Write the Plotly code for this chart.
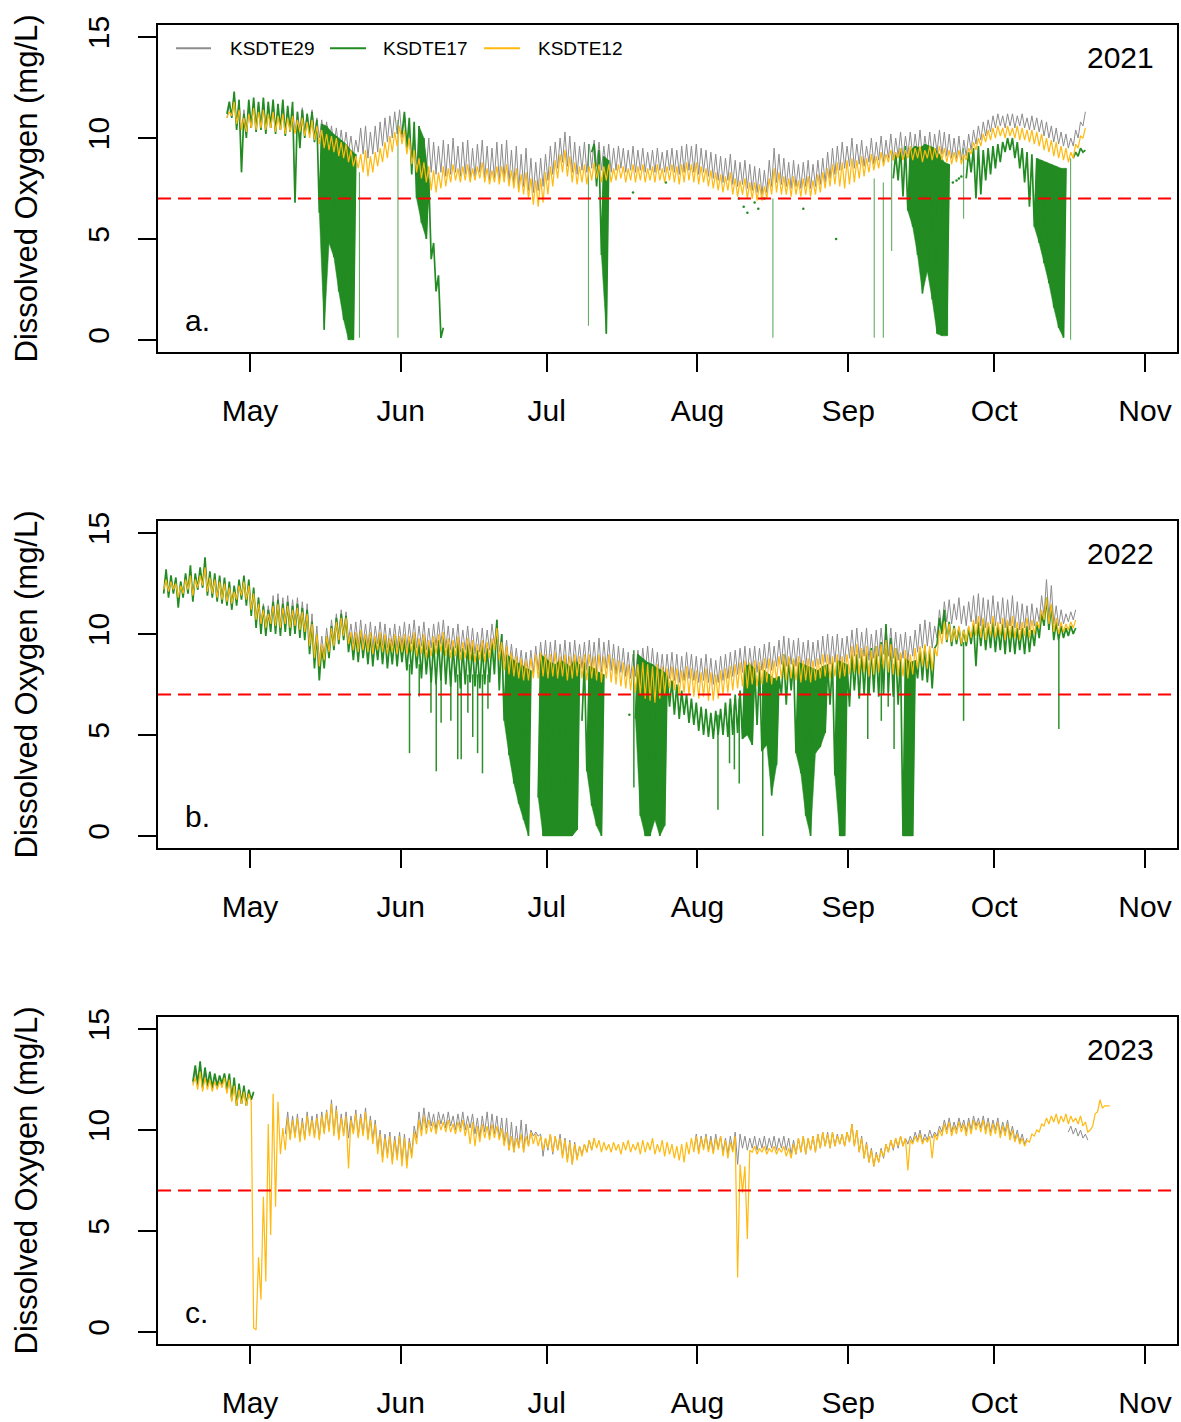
import pandas as pd
import plotly.graph_objects as go
from plotly.subplots import make_subplots

# ---------------- DATA (daily morning-low / afternoon-high pairs, 12 h apart, from 06:00 of start day) ----
months = ["May", "Jun", "Jul", "Aug", "Sep", "Oct", "Nov"]
month_nums = [5, 6, 7, 8, 9, 10, 11]
years = [2021, 2022, 2023]
panel_letters = ["a.", "b.", "c."]
series_names = ["KSDTE29", "KSDTE17", "KSDTE12"]
series_colors = ["#8c8c8c", "#228B22", "#FFB90F"]
threshold = 7

# ---- 2021 ----
k29_2021_starts = ["2021-04-26"]
k29_2021 = [[
    11.0,11.6, 11.2,12.2, 10.8,11.8, 10.4,11.4, 10.3,11.6, 10.6,11.8, 10.5,11.7,
    10.6,11.8, 10.5,11.6, 10.6,11.7, 10.4,11.5, 10.5,11.6, 10.3,11.4, 10.4,11.5,
    10.3,11.3, 10.4,11.5, 10.2,11.2, 10.2,11.4, 10.1,11.0, 10.0,10.9, 9.8,10.8,
    9.7,10.6, 9.6,10.5, 9.5,10.4, 9.4,10.3, 9.3,10.1, 9.1,9.9, 9.3,10.5,
    9.2,10.6, 9.0,10.3, 9.2,10.6, 9.3,10.8, 9.6,11.0, 9.8,11.1, 10.0,11.3,
    10.2,11.4, 10.0,11.2, 9.5,10.6, 9.0,10.2, 8.7,9.8, 8.5,9.9, 8.4,10.0,
    8.3,9.8, 8.2,9.6, 8.3,9.9, 8.1,9.7, 8.2,10.0, 8.3,9.6, 8.1,9.8,
    8.2,9.9, 8.0,9.5, 8.1,9.7, 8.3,9.9, 8.0,9.6, 7.9,9.5, 8.0,9.8,
    7.9,9.7, 8.0,9.9, 7.8,9.4, 7.7,9.6, 7.5,9.2, 7.6,9.5, 7.4,9.0,
    7.3,8.8, 7.4,9.0, 7.6,9.2, 7.9,9.6, 8.2,9.8, 8.5,10.0, 8.8,10.3,
    8.6,10.1, 8.3,9.8, 8.2,9.6, 8.4,9.8, 8.3,9.7, 8.5,9.9, 8.6,9.8,
    8.4,9.6, 8.5,9.7, 8.3,9.5, 8.4,9.6, 8.5,9.5, 8.3,9.4, 8.4,9.6,
    8.3,9.4, 8.4,9.5, 8.3,9.3, 8.4,9.4, 8.3,9.5, 8.4,9.3, 8.3,9.4,
    8.4,9.5, 8.3,9.4, 8.2,9.6, 8.3,9.7, 8.4,9.6, 8.3,9.7, 8.2,9.5,
    8.3,9.4, 8.1,9.3, 8.0,9.2, 7.9,9.1, 7.8,9.0, 7.9,9.2, 7.7,8.9,
    7.6,8.8, 7.7,8.9, 7.5,8.7, 7.4,8.6, 7.3,8.5, 7.2,8.4, 7.3,8.9,
    7.6,9.5, 7.8,9.2, 7.7,9.0, 7.6,8.8, 7.5,8.9, 7.6,8.7, 7.5,8.8,
    7.6,8.9, 7.5,8.7, 7.6,8.9, 7.7,9.0, 7.8,9.3, 8.0,9.5, 8.2,9.6,
    8.4,9.8, 8.5,9.6, 8.6,10.0, 8.5,9.7, 8.7,9.9, 8.6,9.6, 8.8,10.0,
    8.7,9.8, 8.9,10.1, 8.8,9.9, 9.0,10.2, 8.9,10.0, 9.1,10.3, 9.0,10.1,
    9.2,10.3, 9.1,10.2, 9.2,10.4, 9.0,10.1, 9.2,10.3, 9.1,10.2, 9.3,10.4,
    9.2,10.3, 9.1,10.2, 9.0,10.0, 9.0,10.1, 8.9,9.9, 9.1,10.2, 9.4,10.4,
    9.7,10.6, 9.9,10.8, 10.1,10.9, 10.3,11.1, 10.5,11.2, 10.6,11.1, 10.5,11.2,
    10.6,11.2, 10.5,11.1, 10.6,11.2, 10.5,11.0, 10.4,11.1, 10.4,11.0, 10.3,10.9,
    10.1,10.8, 10.0,10.6, 9.8,10.5, 9.7,10.3, 9.6,10.2, 9.5,10.0, 9.6,10.4,
    10.0,10.8, 10.6,11.3]]

k12_2021_starts = ["2021-04-26"]
k12_2021 = [[
    11.0,11.3, 11.1,11.8, 10.7,11.4, 10.4,11.0, 10.3,11.2, 10.5,11.5, 10.4,11.3,
    10.5,11.4, 10.4,11.2, 10.5,11.3, 10.3,11.1, 10.4,11.2, 10.2,11.0, 10.3,11.1,
    10.2,10.9, 10.3,11.0, 10.1,10.8, 10.0,10.9, 9.9,10.6, 9.7,10.4, 9.5,10.2,
    9.4,10.1, 9.3,10.0, 9.1,9.8, 9.0,9.7, 8.8,9.4, 8.6,9.1, 8.5,9.2,
    8.3,9.4, 8.1,9.1, 8.3,9.3, 8.6,9.5, 8.8,9.8, 9.0,10.1, 9.3,10.3,
    9.6,10.6, 9.7,10.4, 9.2,10.0, 8.7,9.4, 8.3,9.0, 8.0,8.8, 7.8,8.6,
    7.4,8.4, 7.3,8.3, 7.5,8.6, 7.6,8.5, 7.8,8.7, 7.9,8.5, 7.8,8.6,
    7.9,8.7, 7.8,8.5, 7.9,8.6, 8.0,8.8, 7.8,8.5, 7.7,8.4, 7.8,8.6,
    7.7,8.6, 7.8,8.7, 7.6,8.4, 7.5,8.5, 7.3,8.2, 7.2,8.3, 7.0,8.0,
    6.7,7.9, 6.6,8.0, 6.8,8.3, 7.2,8.6, 7.6,8.9, 8.0,9.2, 8.3,9.4,
    8.1,9.1, 7.8,8.8, 7.7,8.6, 7.8,8.7, 7.7,8.6, 7.9,8.8, 8.0,8.7,
    7.8,8.6, 7.9,8.7, 7.8,8.5, 7.9,8.7, 8.0,8.6, 7.8,8.5, 7.9,8.7,
    7.8,8.6, 7.9,8.7, 7.8,8.5, 7.9,8.6, 7.8,8.7, 7.9,8.5, 7.8,8.6,
    7.9,8.7, 7.8,8.6, 7.7,8.7, 7.8,8.8, 7.9,8.7, 7.8,8.8, 7.7,8.6,
    7.8,8.5, 7.6,8.4, 7.5,8.3, 7.4,8.2, 7.3,8.1, 7.4,8.3, 7.2,8.0,
    7.1,7.9, 7.2,8.0, 7.0,7.8, 7.0,7.8, 6.9,7.7, 6.9,7.6, 7.0,8.0,
    7.2,8.5, 7.3,8.3, 7.2,8.1, 7.2,8.0, 7.1,8.1, 7.2,7.9, 7.1,8.0,
    7.2,8.1, 7.1,7.9, 7.2,8.2, 7.3,8.3, 7.5,8.5, 7.6,8.7, 7.7,8.8,
    7.6,8.8, 7.5,8.9, 7.7,9.0, 7.8,8.9, 8.0,9.1, 8.1,9.0, 8.3,9.2,
    8.4,9.1, 8.5,9.3, 8.6,9.2, 8.8,9.4, 8.9,9.3, 9.0,9.5, 8.9,9.4,
    9.0,9.6, 8.9,9.5, 9.0,9.6, 8.8,9.4, 9.0,9.6, 8.9,9.5, 9.0,9.6,
    8.9,9.5, 8.8,9.4, 8.7,9.3, 8.8,9.4, 8.7,9.2, 8.9,9.5, 9.2,9.8,
    9.4,10.0, 9.6,10.2, 9.8,10.4, 9.9,10.5, 10.0,10.6, 10.1,10.5, 10.0,10.6,
    10.1,10.5, 10.0,10.6, 9.9,10.5, 9.9,10.4, 9.8,10.4, 9.7,10.3, 9.6,10.2,
    9.4,10.0, 9.3,9.9, 9.1,9.8, 9.0,9.6, 8.9,9.5, 8.8,9.3, 9.0,9.7,
    9.5,10.1, 10.0,10.5]]

k17_2021_starts = ["2021-04-26", "2021-06-01", "2021-07-10", "2021-09-10", "2021-09-25", "2021-10-17"]
k17_2021 = [
    [11.2,11.8, 11.0,12.3, 10.4,11.9, 8.3,11.2, 10.0,11.9, 10.5,12.0, 10.3,11.8,
     10.4,12.0, 10.2,11.8, 10.5,11.9, 10.2,11.7, 10.4,11.9, 10.1,11.6, 10.3,11.8,
     6.8,11.3, 9.5,11.4, 10.0,11.2, 10.2,11.3, 9.8,10.9, 6.3,10.7, 0.5,10.6,
     4.8,10.3, 4.1,10.1, 2.4,9.9, 1.0,9.7, 0.0,9.4, 0.0,9.2],
    [10.2,11.3, 9.5,11.0, 8.2,10.8, 7.0,10.6, 5.8,10.0, 5.0,8.0, 4.0,4.8, 2.4,3.2, 0.1,0.6],
    [9.3,9.7, 7.6,9.4, 4.2,9.1, 0.3,8.9],
    [8.0,9.2, 7.9,9.5, 7.1,9.6, 6.4,9.4, 5.6,9.6, 4.2,9.5, 2.3,9.7, 3.4,9.6, 2.0,9.5,
     0.3,9.2, 0.2,8.8, 0.2,8.7],
    [8.0,9.3, 8.3,9.5, 7.0,9.6, 7.2,9.4, 7.9,9.5, 8.2,9.6, 8.5,9.7, 8.8,9.8, 9.3,10.0,
     9.4,10.0, 9.0,9.8, 8.5,9.5, 7.8,9.3, 6.6,9.2, 5.6,9.0, 4.8,8.9, 3.8,8.8, 2.8,8.7,
     1.6,8.6, 0.6,8.5, 0.1,8.5],
    [9.0,9.3, 9.1,9.5, 9.3,9.4]]

k17_2021_dot_times = ["2021-07-18 18:00", "2021-07-25 12:00", "2021-08-09 12:00", "2021-08-10 12:00",
                      "2021-08-11 06:00", "2021-08-12 18:00", "2021-08-13 12:00", "2021-08-14 18:00",
                      "2021-08-22 18:00", "2021-08-29 12:00", "2021-09-22 12:00", "2021-09-23 06:00",
                      "2021-09-23 18:00", "2021-09-24 06:00"]
k17_2021_dot_vals = [7.3, 7.8, 7.0, 6.6, 6.3, 6.8, 6.5, 7.0, 6.5, 5.0, 7.8, 7.9, 8.0, 8.1]

k17_2021_spike_times = ["2021-05-23 12:00", "2021-05-31 10:00", "2021-07-09 14:00", "2021-08-16 12:00",
                        "2021-09-06 08:00", "2021-09-08 05:00", "2021-09-09 22:00", "2021-09-21 03:00",
                        "2021-09-21 10:00", "2021-09-24 17:00", "2021-10-16 17:00"]
k17_2021_spike_top = [8.3, 10.9, 9.7, 7.0, 8.0, 7.8, 9.3, 7.8, 7.8, 9.5, 9.0]
k17_2021_spike_bottom = [0.1, 0.1, 0.7, 0.1, 0.1, 0.1, 4.4, 0.2, 0.2, 6.0, 0.0]

# ---- 2022 ----
k29_2022_starts = ["2022-04-13"]
k29_2022 = [[
    12.1,13.0, 12.0,12.8, 12.1,12.7, 11.6,12.6, 11.9,12.9, 12.1,13.2, 11.8,12.9,
    12.2,13.2, 12.3,13.6, 12.0,13.0, 11.9,12.9, 11.7,12.8, 11.6,12.7, 11.5,12.5,
    11.4,12.3, 11.6,12.6, 11.8,12.8, 11.6,12.6, 11.1,12.2, 10.6,11.8, 10.4,11.5,
    10.3,11.4, 10.6,11.9, 10.5,12.0, 10.4,11.8, 10.6,11.9, 10.4,11.7, 10.5,11.8,
    10.3,11.6, 10.2,11.5, 9.6,11.0, 9.0,10.4, 8.6,9.9, 8.9,10.3, 9.3,10.7,
    9.6,11.0, 9.9,11.2, 10.1,11.1, 9.7,10.5, 9.5,10.6, 9.4,10.7, 9.5,10.5,
    9.4,10.6, 9.3,10.4, 9.5,10.6, 9.4,10.5, 9.3,10.3, 9.4,10.5, 9.3,10.4,
    9.4,10.6, 9.3,10.5, 9.5,10.7, 9.3,10.4, 9.4,10.6, 9.2,10.3, 9.3,10.5,
    9.4,10.6, 9.5,10.7, 9.3,10.4, 9.2,10.3, 9.3,10.5, 9.1,10.2, 9.2,10.4,
    9.1,10.3, 9.0,10.1, 9.1,10.3, 9.0,10.2, 9.2,10.5, 9.5,10.7, 9.1,10.0,
    8.6,9.7, 8.4,9.5, 8.3,9.3, 8.2,9.2, 8.1,9.1, 8.0,9.2, 8.1,9.4,
    8.2,9.6, 8.3,9.7, 8.2,9.6, 8.3,9.7, 8.2,9.5, 8.3,9.7, 8.1,9.6,
    8.2,9.7, 8.4,9.5, 8.3,9.6, 8.2,9.7, 8.3,9.6, 8.2,9.8, 8.1,9.6,
    8.3,9.7, 8.2,9.5, 8.0,9.4, 8.1,9.3, 7.9,9.1, 7.8,9.0, 7.9,9.2,
    8.0,9.3, 8.1,9.4, 8.0,9.3, 7.9,9.1, 7.8,9.0, 7.7,9.0, 7.8,9.1,
    7.7,9.0, 7.6,8.9, 7.7,9.1, 7.8,9.0, 7.7,8.9, 7.6,8.8, 7.7,9.0,
    7.6,8.8, 7.5,8.7, 7.6,8.9, 7.7,9.0, 7.8,9.1, 7.9,9.2, 8.0,9.3,
    8.1,9.4, 8.0,9.3, 8.2,9.4, 8.1,9.3, 8.2,9.5, 8.3,9.6, 8.2,9.4,
    8.4,9.7, 8.5,9.9, 8.4,9.8, 8.5,9.7, 8.4,9.8, 8.3,9.6, 8.4,9.7,
    8.3,9.6, 8.4,9.7, 8.5,9.9, 8.6,10.0, 8.5,9.9, 8.6,10.0, 8.5,9.8,
    8.6,9.9, 8.8,10.2, 8.9,10.3, 8.8,10.1, 8.9,10.3, 8.7,10.0, 8.8,10.2,
    8.9,10.3, 9.0,10.4, 8.9,10.3, 8.8,10.1, 8.7,10.0, 8.8,10.1, 8.7,9.9,
    8.9,10.2, 9.1,10.5, 9.3,10.7, 9.4,10.6, 9.3,10.4, 9.8,11.2, 10.2,11.6,
    10.6,11.7, 10.5,11.5, 10.7,11.8, 10.5,11.4, 10.4,11.6, 10.6,11.9, 10.5,12.0,
    10.4,11.8, 10.3,11.7, 10.5,11.9, 10.4,11.6, 10.5,11.8, 10.3,11.7, 10.4,11.9,
    10.3,11.6, 10.2,11.5, 10.3,11.4, 10.2,11.5, 10.4,11.3, 10.6,11.9, 10.9,12.7,
    10.8,12.4, 10.5,11.4, 10.4,11.2, 10.5,11.0, 10.6,11.1, 10.7,11.2]]

k12_2022_starts = ["2022-04-13"]
k12_2022 = [[
    12.2,12.7, 12.1,12.6, 12.2,12.5, 11.8,12.4, 12.0,12.7, 12.2,12.9, 11.9,12.7,
    12.3,12.9, 12.4,13.3, 12.1,12.8, 12.0,12.7, 11.8,12.6, 11.7,12.5, 11.6,12.3,
    11.5,12.1, 11.7,12.4, 11.9,12.6, 11.7,12.4, 11.2,12.0, 10.7,11.5, 10.5,11.2,
    10.3,11.0, 10.5,11.4, 10.4,11.5, 10.3,11.3, 10.5,11.4, 10.3,11.2, 10.4,11.3,
    10.2,11.1, 10.1,11.0, 9.4,10.5, 8.8,10.0, 8.4,9.5, 8.7,9.9, 9.1,10.3,
    9.4,10.6, 9.7,10.8, 9.9,10.8, 9.5,10.1, 9.2,10.1, 9.1,10.2, 9.2,10.0,
    9.1,10.1, 9.0,9.9, 9.2,10.1, 9.1,10.0, 9.0,9.8, 9.1,10.0, 9.0,9.9,
    9.1,10.0, 9.0,9.9, 9.1,10.1, 8.9,9.8, 9.0,10.0, 8.8,9.7, 8.9,9.9,
    9.0,10.0, 9.1,10.1, 8.9,9.8, 8.8,9.7, 8.9,9.9, 8.7,9.6, 8.8,9.8,
    8.7,9.7, 8.6,9.5, 8.7,9.7, 8.6,9.6, 8.8,9.8, 9.2,10.3, 8.7,9.6,
    8.2,9.4, 8.0,9.1, 7.9,8.9, 7.8,8.8, 7.7,8.7, 7.7,8.8, 7.8,9.0,
    7.8,9.1, 7.9,9.0, 7.8,9.0, 7.9,9.1, 7.8,8.9, 7.9,9.0, 7.7,8.9,
    7.8,9.0, 7.9,8.9, 7.8,9.0, 7.7,9.0, 7.8,8.9, 7.7,9.0, 7.6,8.9,
    7.8,9.0, 7.6,8.8, 7.5,8.7, 7.4,8.6, 7.3,8.5, 7.2,8.4, 7.1,8.5,
    7.0,8.6, 6.8,8.5, 6.7,8.4, 6.6,8.5, 6.8,8.4, 7.0,8.3, 7.3,8.4,
    7.2,8.3, 7.0,8.2, 7.1,8.4, 7.0,8.3, 6.9,8.2, 6.8,8.1, 6.9,8.3,
    6.7,8.1, 6.7,8.0, 6.8,8.2, 7.0,8.3, 7.1,8.4, 7.2,8.5, 7.3,8.6,
    7.4,8.7, 7.3,8.6, 7.5,8.7, 7.4,8.6, 7.5,8.8, 7.6,8.8, 7.5,8.7,
    7.7,8.9, 7.8,9.0, 7.7,8.9, 7.8,8.8, 7.7,8.9, 7.6,8.7, 7.7,8.8,
    7.6,8.7, 7.7,8.8, 7.8,9.0, 7.9,9.0, 7.8,8.9, 7.9,9.0, 7.8,8.9,
    7.9,9.0, 8.0,9.4, 8.1,9.5, 8.0,9.3, 8.1,9.4, 7.9,9.2, 8.0,9.4,
    8.1,9.5, 8.3,9.7, 8.1,9.5, 8.0,9.3, 7.9,9.1, 7.9,9.2, 7.8,9.0,
    8.0,9.3, 8.3,9.4, 8.4,9.5, 8.3,9.4, 8.2,9.3, 8.9,10.2, 9.5,10.6,
    9.7,10.5, 9.6,10.3, 9.7,10.4, 9.5,10.2, 9.6,10.4, 9.8,10.7, 9.9,10.9,
    9.8,10.8, 9.7,10.6, 9.9,10.9, 9.8,10.6, 9.9,10.8, 9.7,10.7, 9.8,10.9,
    9.8,10.6, 9.7,10.6, 9.9,10.8, 9.8,10.7, 10.0,10.6, 10.3,11.2, 10.7,11.8,
    10.5,11.5, 10.1,10.8, 10.0,10.6, 10.1,10.5, 10.2,10.6, 10.3,10.7]]

k17_2022_starts = ["2022-04-13", "2022-06-29", "2022-07-08", "2022-07-19"]
k17_2022 = [
    [12.0,13.2, 11.8,12.9, 12.0,12.8, 11.3,12.6, 11.8,13.0, 12.0,13.4, 11.6,13.0,
     12.2,13.3, 12.3,13.8, 11.9,13.1, 11.8,13.0, 11.6,12.9, 11.5,12.8, 11.4,12.6,
     11.2,12.4, 11.4,12.7, 11.7,12.9, 11.4,12.7, 10.9,12.3, 10.3,11.8, 10.0,11.4,
     9.9,11.2, 10.1,11.6, 10.0,11.7, 9.9,11.5, 10.1,11.6, 9.9,11.4, 10.0,11.5,
     9.8,11.3, 9.7,11.2, 9.0,10.6, 8.3,10.0, 7.7,9.4, 8.3,9.9, 8.8,10.4,
     9.2,10.8, 9.5,11.0, 9.7,10.9, 9.1,10.0, 8.7,10.0, 8.6,10.1, 8.8,9.9,
     8.5,10.0, 8.4,9.8, 8.7,10.0, 8.5,9.9, 8.3,9.7, 8.5,9.9, 8.4,9.8,
     8.6,9.8, 8.2,9.7, 8.0,9.9, 8.3,9.6, 7.8,9.8, 8.0,9.5, 7.6,9.6,
     7.5,9.7, 7.7,9.9, 7.5,9.5, 7.4,9.4, 7.6,9.6, 7.3,9.3, 7.5,9.5,
     7.6,9.4, 7.4,9.2, 7.3,9.4, 7.5,9.3, 7.6,9.6, 8.0,10.7, 7.2,10.0,
     5.7,9.0, 4.0,8.8, 2.6,8.6, 1.6,8.5, 0.8,8.3, 0.0,8.2],
    [1.9,9.0, 0.0,8.8, 0.0,8.6, 0.0,8.5, 0.0,8.7, 0.0,8.6, 0.0,8.4, 0.0,8.7, 0.3,8.5],
    [5.7,8.6, 3.2,8.4, 1.5,8.3, 0.5,8.1, 0.0,8.0],
    [5.8,9.0, 1.0,8.8, 0.0,8.6, 0.0,8.5, 0.8,8.3, 0.0,8.2, 0.5,8.0,
     6.4,7.7, 6.0,7.5, 5.8,7.2, 6.0,7.0, 5.6,6.8, 5.5,6.6, 5.2,6.4,
     5.0,6.3, 4.9,6.1, 4.8,6.2, 5.0,6.3, 5.0,6.6, 4.9,6.8, 5.0,7.0,
     5.1,7.2, 4.8,8.4, 5.0,8.5, 4.5,8.3, 5.5,8.4, 4.2,8.2, 4.5,8.0,
     2.0,7.8, 3.5,7.9, 7.0,9.0, 6.5,8.8, 7.2,8.7, 4.1,8.6, 3.1,8.5,
     1.0,8.4, 0.0,8.3, 4.1,8.2, 4.4,8.4, 5.1,8.5, 6.5,8.6, 3.0,8.7,
     0.0,8.6, 0.0,8.5, 6.4,9.0, 7.2,9.0, 6.8,9.2, 7.0,9.1, 7.0,9.3,
     7.1,9.4, 6.9,9.6, 7.0,10.5, 7.1,9.8, 6.9,9.3, 6.5,9.0, 0.0,8.8,
     0.0,8.6, 0.0,8.7, 7.8,9.3, 7.7,9.4, 7.6,9.2, 7.3,9.3, 9.5,10.8,
     10.0,11.2, 9.6,10.6, 9.4,10.4, 9.5,10.3, 9.4,10.2, 9.4,10.3, 9.5,10.5,
     8.4,10.6, 9.4,10.7, 9.2,10.5, 9.3,10.6, 9.1,10.4, 9.2,10.5, 9.0,10.6,
     9.1,10.4, 9.0,10.3, 9.2,10.3, 9.0,10.4, 9.1,10.2, 9.4,10.6, 9.8,11.0,
     10.4,11.8, 10.2,11.4, 9.7,10.6, 9.7,10.4, 9.8,10.3, 9.9,10.4, 10.0,10.3]]

k17_2022_dot_times = ["2022-07-18 00:00"]
k17_2022_dot_vals = [6.0]
k17_2022_spike_times = ["2022-06-02 19:00", "2022-06-04 19:00", "2022-06-07 05:00", "2022-06-08 07:00",
                        "2022-06-09 07:00", "2022-06-11 07:00", "2022-06-12 17:00", "2022-06-13 10:00",
                        "2022-06-14 19:00", "2022-06-15 19:00", "2022-06-16 19:00", "2022-06-17 19:00",
                        "2022-06-18 22:00", "2022-07-18 22:00", "2022-08-05 05:00", "2022-08-07 14:00",
                        "2022-08-08 14:00", "2022-08-09 14:00", "2022-08-14 10:00", "2022-09-05 00:00",
                        "2022-09-07 19:00", "2022-09-09 05:00", "2022-09-10 10:00", "2022-09-24 17:00",
                        "2022-10-14 07:00"]
k17_2022_spike_top = [8.5, 8.5, 8.3, 8.2, 8.0, 8.0, 8.0, 8.0, 8.0, 8.0, 8.0, 8.0, 8.0,
                      9.2, 6.0, 6.5, 6.5, 6.8, 7.7, 8.0, 8.5, 8.5, 8.5, 9.6, 9.7]
k17_2022_spike_bottom = [4.1, 6.9, 6.1, 3.2, 5.6, 5.7, 3.8, 3.8, 6.1, 4.9, 4.1, 3.1, 6.3,
                         2.4, 1.3, 3.6, 3.3, 2.6, 0.0, 4.8, 5.7, 6.4, 4.3, 5.7, 5.3]

# ---- 2023 ----
k29_2023_starts = ["2023-04-19", "2023-05-08", "2023-07-31", "2023-10-16"]
k29_2023 = [
    [12.3,12.9, 12.2,13.2, 12.0,12.9, 12.1,12.8, 12.0,12.7, 12.1,12.6, 12.2,12.8,
     11.9,12.7, 11.6,12.5, 11.3,12.2, 11.4,12.1, 11.3,11.9, 11.5,11.8],
    [9.8,10.9, 9.6,10.7, 9.7,10.8, 9.5,10.6, 9.6,10.9, 9.8,10.7, 9.7,10.8,
     9.6,10.9, 9.9,11.0, 10.0,11.5, 9.8,11.2, 9.6,10.8, 9.8,10.9, 9.6,10.7,
     9.9,11.0, 9.7,10.8, 9.8,11.1, 9.6,10.7, 9.5,10.5, 9.0,10.0, 8.6,9.8,
     8.8,9.9, 8.5,9.7, 8.7,9.9, 8.4,9.8, 8.3,9.6, 8.8,10.2, 9.6,10.9,
     10.0,11.1, 10.1,10.9, 10.2,10.8, 10.0,10.9, 10.3,10.8, 10.1,10.9, 10.2,10.7,
     10.0,10.8, 10.1,10.9, 10.0,10.7, 10.1,10.8, 9.8,10.6, 9.6,10.7, 9.9,10.9,
     9.7,10.8, 9.8,10.7, 9.6,10.6, 9.3,10.6, 9.0,10.4, 8.9,10.2, 9.1,10.5,
     8.9,10.3, 9.2,10.0, 9.7,9.9, 9.7,9.8, 8.7,9.6, 9.0,9.8, 8.8,9.7,
     9.0,9.8, 8.7,9.6, 8.5,9.5, 8.3,9.4, 8.6,9.2, 8.8,9.3, 8.9,9.5, 9.0,9.6],
    [9.0,9.8, 8.9,9.7, 9.1,9.8, 9.0,9.7, 8.9,9.8, 9.1,9.7, 8.9,9.6,
     8.8,9.7, 9.0,9.9, 8.3,9.8, 9.1,9.7, 9.0,9.6, 9.1,9.7, 9.0,9.6,
     9.1,9.7, 9.0,9.6, 9.1,9.7, 9.0,9.6, 9.1,9.7, 9.0,9.6, 8.8,9.5,
     8.8,9.6, 8.9,9.7, 8.8,9.6, 9.0,9.7, 8.9,9.8, 9.1,9.9, 9.2,9.9,
     9.1,9.9, 9.2,9.8, 9.3,9.8, 9.2,9.9, 9.4,10.3, 9.2,10.0, 8.9,9.7,
     8.6,9.4, 8.4,9.1, 8.2,8.9, 8.4,9.1, 8.6,9.3, 8.9,9.5, 9.0,9.6,
     9.1,9.7, 9.2,9.6, 9.3,9.7, 9.4,9.9, 9.5,10.0, 9.4,9.8, 9.5,10.0,
     9.6,9.9, 9.7,10.2, 9.9,10.5, 10.0,10.6, 9.9,10.4, 10.0,10.6, 10.1,10.5,
     9.9,10.6, 10.0,10.7, 10.2,10.6, 10.1,10.7, 10.0,10.6, 9.9,10.5, 10.0,10.6,
     9.8,10.4, 9.9,10.5, 9.7,10.2, 9.5,10.0, 9.4,9.8, 9.3,9.6],
    [9.9,10.2, 9.8,10.1, 9.7,10.0, 9.6,9.8, 9.5]]

k12_2023_starts = ["2023-04-19"]
k12_2023 = [[
    12.2,12.6, 12.0,12.9, 11.9,12.6, 12.0,12.5, 11.9,12.4, 12.0,12.4, 12.1,12.6,
    11.8,12.5, 11.4,12.2, 11.2,12.0, 11.3,11.9, 11.2,11.8, 11.4,0.2,
    0.1,3.7, 1.6,6.7, 2.5,10.3, 4.8,11.8, 6.2,11.4, 8.8,10.1, 9.0,10.6,
    9.5,10.5, 9.6,10.6, 9.4,10.4, 9.5,10.7, 9.7,10.5, 9.6,10.6, 9.5,10.7,
    9.8,10.9, 9.9,11.3, 9.7,11.0, 9.5,10.6, 9.7,10.7, 8.1,10.5, 9.8,10.8,
    9.6,10.6, 9.7,10.9, 9.5,10.5, 9.3,10.3, 8.8,9.8, 8.4,9.6, 8.6,9.7,
    8.3,9.5, 8.5,9.7, 8.2,9.6, 8.1,9.4, 8.6,9.9, 9.3,10.5, 9.7,10.7,
    9.8,10.5, 9.9,10.4, 9.8,10.5, 10.0,10.4, 9.9,10.5, 9.9,10.3, 9.8,10.4,
    9.9,10.5, 9.7,10.3, 9.3,10.4, 9.2,10.2, 9.4,10.3, 9.6,10.2, 9.5,10.3,
    9.6,10.2, 9.5,10.1, 9.2,9.9, 9.0,9.7, 8.9,9.6, 9.1,9.8, 8.9,9.7,
    9.2,9.9, 9.3,9.8, 9.2,9.7, 9.0,9.6, 9.1,9.8, 8.9,9.7, 9.0,9.6,
    8.6,9.5, 8.4,9.4, 8.3,9.3, 8.5,9.2, 8.7,9.3, 8.9,9.5, 9.0,9.6,
    9.1,9.5, 8.9,9.4, 9.0,9.3, 8.9,9.4, 9.0,9.3, 8.8,9.4, 9.0,9.5,
    8.9,9.3, 9.0,9.4, 8.8,9.5, 8.9,9.4, 9.0,9.6, 8.8,9.3, 8.9,9.5,
    8.7,9.4, 8.8,9.3, 8.6,9.2, 8.5,9.3, 8.4,9.4, 8.8,9.6, 8.9,9.7,
    8.8,9.6, 9.0,9.7, 8.9,9.5, 8.8,9.6, 9.0,9.7, 8.7,9.5, 8.6,9.4,
    8.9,9.7, 2.7,8.3, 6.9,8.2, 4.6,9.0, 8.9,9.2, 8.8,9.1, 8.9,9.2,
    8.8,9.1, 8.9,9.2, 8.8,9.1, 8.9,9.2, 8.7,9.1, 8.6,9.3, 8.8,9.6,
    8.9,9.7, 8.8,9.6, 9.0,9.7, 8.9,9.8, 9.1,9.9, 9.2,9.8, 9.1,9.9,
    9.2,9.7, 9.3,9.8, 9.2,9.9, 9.4,10.3, 9.2,10.0, 8.9,9.6, 8.6,9.3,
    8.4,9.0, 8.2,8.8, 8.4,9.0, 8.7,9.3, 8.9,9.5, 9.1,9.6, 9.2,9.7,
    9.2,9.6, 8.0,9.5, 9.3,9.7, 9.4,9.8, 9.3,9.6, 9.4,9.7, 8.6,9.8,
    9.5,10.0, 9.7,10.3, 9.8,10.4, 9.7,10.2, 9.8,10.4, 9.9,10.3, 9.7,10.4,
    9.8,10.5, 10.0,10.4, 9.9,10.5, 9.8,10.4, 9.7,10.3, 9.8,10.4, 9.6,10.2,
    9.7,10.3, 9.5,10.0, 9.4,9.8, 9.3,9.6, 9.2,9.5, 9.4,9.8, 9.7,10.0,
    9.9,10.3, 10.2,10.6, 10.3,10.7, 10.4,10.8, 10.3,10.7, 10.4,10.8, 10.3,10.7,
    10.4,10.6, 10.3,10.7, 10.2,10.4, 9.9,10.0, 10.2,10.8, 10.9,11.5, 11.1,11.2,
    11.2,11.2]]

k17_2023_starts = ["2023-04-19"]
k17_2023 = [[
    12.4,13.2, 12.3,13.4, 12.1,13.1, 12.2,12.9, 12.1,12.8, 12.2,12.7, 12.3,12.8,
    12.0,12.8, 11.5,12.6, 11.2,12.3, 11.3,12.2, 11.2,12.0, 11.5,11.9]]

data = {
    2021: dict(k29=(k29_2021_starts, k29_2021), k17=(k17_2021_starts, k17_2021), k12=(k12_2021_starts, k12_2021),
               dots=(k17_2021_dot_times, k17_2021_dot_vals),
               spikes=(k17_2021_spike_times, k17_2021_spike_top, k17_2021_spike_bottom)),
    2022: dict(k29=(k29_2022_starts, k29_2022), k17=(k17_2022_starts, k17_2022), k12=(k12_2022_starts, k12_2022),
               dots=(k17_2022_dot_times, k17_2022_dot_vals),
               spikes=(k17_2022_spike_times, k17_2022_spike_top, k17_2022_spike_bottom)),
    2023: dict(k29=(k29_2023_starts, k29_2023), k17=(k17_2023_starts, k17_2023), k12=(k12_2023_starts, k12_2023),
               dots=([], []), spikes=([], [], [])),
}
spike_style = {2021: (1.1, 0.7), 2022: (1.5, 0.95), 2023: (1.1, 0.7)}


# ---------------- helpers ----------------
def fmt(t):
    return t.strftime("%Y-%m-%d %H:%M")


def seg_xy(starts, segs):
    xs, ys = [], []
    for s, vals in zip(starts, segs):
        t0 = pd.Timestamp(s) + pd.Timedelta(hours=6)
        for i, v in enumerate(vals):
            xs.append(fmt(t0 + pd.Timedelta(hours=12 * i)))
            ys.append(v)
        xs.append(None)
        ys.append(None)
    return xs, ys


def band_xy(starts, segs, thr=3.0, minrun=2):
    """Polygons between the daily highs and the daily lows where the low drops far below the high."""
    xs, ys = [], []
    for s, vals in zip(starts, segs):
        t0 = pd.Timestamp(s) + pd.Timedelta(hours=6)
        n = len(vals) // 2
        flags = [vals[2 * k + 1] - vals[2 * k] >= thr for k in range(n)]
        k = 0
        while k < n:
            if flags[k]:
                j = k
                while j + 1 < n and flags[j + 1]:
                    j += 1
                if j - k + 1 >= minrun:
                    up = [(t0 + pd.Timedelta(hours=24 * m + 12), vals[2 * m + 1]) for m in range(k, j + 1)]
                    lo = [(t0 + pd.Timedelta(hours=24 * m), vals[2 * m]) for m in range(j, k - 1, -1)]
                    pts = up + lo + [up[0]]
                    xs += [fmt(p[0]) for p in pts] + [None]
                    ys += [p[1] for p in pts] + [None]
                k = j + 1
            else:
                k += 1
    return xs, ys


def spike_xy(times, tops, bottoms):
    xs, ys = [], []
    for t, a, b in zip(times, tops, bottoms):
        xs += [t, t, None]
        ys += [a, b, None]
    return xs, ys


FONT = "Liberation Sans, Arial, sans-serif"
GRAY, GREEN, YELLOW = series_colors

fig = make_subplots(rows=3, cols=1, shared_xaxes=False, vertical_spacing=0.0)

domains = [[0.7521, 1.0], [0.3760, 0.6240], [0.0, 0.2479]]

for r, yr in enumerate(years, start=1):
    d = data[yr]
    x, y = seg_xy(*d["k29"])
    fig.add_trace(go.Scatter(x=x, y=y, mode="lines", line=dict(color=GRAY, width=1.0),
                             name="KSDTE29", showlegend=False, connectgaps=False), row=r, col=1)
    bx, by = band_xy(*d["k17"])
    if bx:
        fig.add_trace(go.Scatter(x=bx, y=by, mode="lines", fill="toself", fillcolor=GREEN,
                                 line=dict(color=GREEN, width=0.5), showlegend=False,
                                 hoverinfo="skip"), row=r, col=1)
    x, y = seg_xy(*d["k17"])
    fig.add_trace(go.Scatter(x=x, y=y, mode="lines", line=dict(color=GREEN, width=1.7),
                             name="KSDTE17", showlegend=False, connectgaps=False), row=r, col=1)
    sx, sy = spike_xy(*d["spikes"])
    if sx:
        w, op = spike_style[yr]
        fig.add_trace(go.Scatter(x=sx, y=sy, mode="lines", line=dict(color=GREEN, width=w),
                                 opacity=op, showlegend=False, hoverinfo="skip"), row=r, col=1)
    if d["dots"][0]:
        fig.add_trace(go.Scatter(x=d["dots"][0], y=d["dots"][1], mode="markers",
                                 marker=dict(color=GREEN, size=2.5), showlegend=False), row=r, col=1)
    x, y = seg_xy(*d["k12"])
    fig.add_trace(go.Scatter(x=x, y=y, mode="lines", line=dict(color=YELLOW, width=1.2),
                             name="KSDTE12", showlegend=False, connectgaps=False), row=r, col=1)

    tickvals = [f"{yr}-{m:02d}-01" for m in month_nums]
    fig.update_xaxes(row=r, col=1, type="date", automargin=False,
                     range=[f"{yr}-04-12 02:00", f"{yr}-11-07 14:00"],
                     tickvals=tickvals, ticktext=months,
                     ticks="outside", ticklen=18, tickwidth=1.5, tickcolor="black",
                     showgrid=False, zeroline=False, showline=True, mirror=True,
                     linecolor="black", linewidth=1.5,
                     tickfont=dict(family=FONT, size=30, color="black"),
                     ticklabelstandoff=13)
    fig.update_yaxes(row=r, col=1, range=[-0.6, 15.6], domain=domains[r - 1], automargin=False,
                     tickvals=[0, 5, 10, 15], ticktext=["0", "5", "10", "15"], tickangle=-90,
                     ticks="outside", ticklen=18, tickwidth=1.5, tickcolor="black",
                     showgrid=False, zeroline=False, showline=True, mirror=True,
                     linecolor="black", linewidth=1.5,
                     tickfont=dict(family=FONT, size=30, color="black"),
                     ticklabelstandoff=17)

    yref = "y" if r == 1 else f"y{r}"
    xref = "x" if r == 1 else f"x{r}"
    fig.add_shape(type="line", xref=f"{xref} domain", yref=yref, x0=0, x1=1, y0=threshold, y1=threshold,
                  line=dict(color="#FF0000", width=2, dash="13px,7px"), layer="above")
    fig.add_annotation(xref=f"{xref} domain", yref=f"{yref} domain", x=0.979, y=0.90,
                       xanchor="right", yanchor="middle", text=str(yr), showarrow=False,
                       font=dict(family=FONT, size=30, color="black"))
    fig.add_annotation(xref=f"{xref} domain", yref=f"{yref} domain", x=0.0245, y=0.095,
                       xanchor="left", yanchor="middle", text=panel_letters[r - 1], showarrow=False,
                       font=dict(family=FONT, size=30, color="black"))
    fig.add_annotation(xref="paper", yref=f"{yref} domain", x=-0.1286, y=0.5,
                       xanchor="center", yanchor="middle", textangle=-90,
                       text="Dissolved Oxygen (mg/L)", showarrow=False,
                       font=dict(family=FONT, size=31, color="black"))

# legend (panel a)
leg_x0 = [0.0177, 0.1688, 0.3199]
leg_x1 = [0.0520, 0.2041, 0.3553]
leg_tx = [0.0687, 0.2188, 0.3710]
for i in range(3):
    fig.add_shape(type="line", xref="x domain", yref="y domain", x0=leg_x0[i], x1=leg_x1[i],
                  y0=0.929, y1=0.929, line=dict(color=series_colors[i], width=2))
    fig.add_annotation(xref="x domain", yref="y domain", x=leg_tx[i], y=0.929, xanchor="left",
                       yanchor="middle", text=series_names[i], showarrow=False,
                       font=dict(family=FONT, size=19, color="black"))

fig.update_layout(width=1181, height=1422, margin=dict(l=158, r=4, t=25, b=78),
                  plot_bgcolor="white", paper_bgcolor="white", showlegend=False,
                  font=dict(family=FONT, color="black"))

fig.write_html("out.html", config={"displayModeBar": False},
               post_script="document.body.style.margin='0px';")
